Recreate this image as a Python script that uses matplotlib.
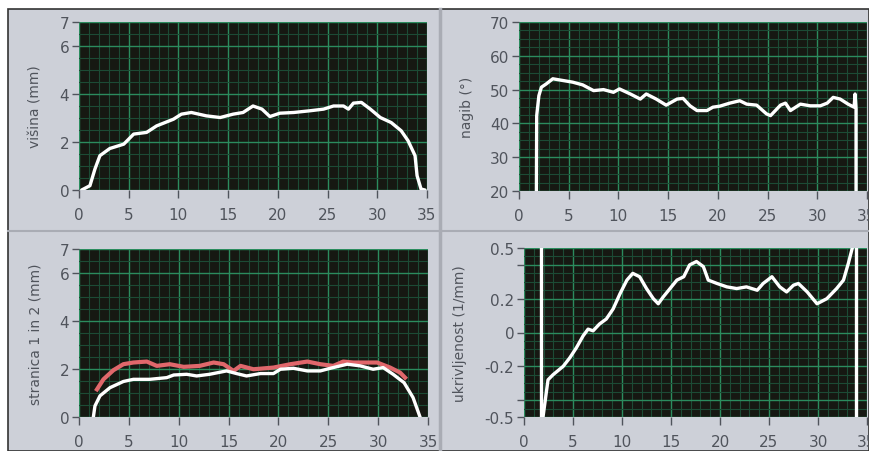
import matplotlib
matplotlib.use("Agg")
import matplotlib.pyplot as plt
from matplotlib.patches import Rectangle
from matplotlib.lines import Line2D
from matplotlib.ticker import MultipleLocator, FixedLocator

plt.rcParams['font.family'] = ['DejaVu Sans']

# ---------------- data ----------------
# višina (mm)
visina_x = [0.27, 1.1, 1.6, 2.1, 3.1, 4.5, 5.5, 6.8, 7.8, 9.5, 10.3, 11.3, 12.8, 14.2,
            15.5, 16.5, 17.5, 18.4, 19.2, 20.2, 21.6, 23.2, 24.6, 25.6, 26.6, 27.1,
            27.6, 28.4, 29.3, 30.3, 31.4, 32.4, 33.1, 33.8, 34.0, 34.4, 34.8]
visina_y = [0.0, 0.18, 0.87, 1.43, 1.73, 1.91, 2.33, 2.4, 2.67, 2.95, 3.16, 3.23, 3.09, 3.02,
            3.16, 3.23, 3.5, 3.37, 3.06, 3.2, 3.23, 3.3, 3.37, 3.5, 3.5, 3.37,
            3.62, 3.65, 3.37, 3.02, 2.81, 2.47, 2.05, 1.43, 0.6, 0.04, 0.0]

# nagib (°)
nagib_x = [1.75, 1.78, 2.0, 2.25, 2.75, 3.4, 4.4, 5.4, 6.4, 7.5, 8.5, 9.5, 10.1, 11.2,
           12.2, 12.8, 13.8, 14.8, 15.9, 16.5, 17.2, 17.9, 18.9, 19.5, 20.2, 21.2, 22.2,
           22.9, 23.9, 24.9, 25.3, 26.3, 26.8, 27.3, 28.3, 29.3, 30.3, 31.0, 31.6, 32.3,
           33.1, 33.7, 33.8, 33.9, 33.9]
nagib_y = [20, 42.3, 48.2, 50.7, 51.7, 53.2, 52.7, 52.2, 51.4, 49.7, 50.0, 49.2, 50.2, 48.7,
           47.2, 48.7, 47.2, 45.4, 47.2, 47.4, 45.2, 43.8, 43.8, 44.8, 45.1, 46.0, 46.7,
           45.7, 45.4, 42.8, 42.3, 45.4, 46.0, 43.8, 45.7, 45.2, 45.2, 46.0, 47.7, 47.2,
           45.7, 44.8, 48.7, 44.3, 20]

# stranica 1 in 2 (mm)
stran1_x = [1.44, 1.6, 2.1, 3.1, 4.45, 5.45, 7.1, 8.8, 9.5, 10.8, 11.8, 13.1, 14.8, 15.8,
            16.8, 18.2, 19.5, 20.2, 21.5, 22.9, 24.2, 25.2, 26.9, 28.2, 29.5, 30.5, 31.5,
            32.6, 33.5, 34.2]
stran1_y = [0.0, 0.46, 0.88, 1.22, 1.48, 1.57, 1.57, 1.64, 1.75, 1.78, 1.71, 1.78, 1.92, 1.81,
            1.71, 1.81, 1.81, 1.99, 2.03, 1.92, 1.92, 2.03, 2.2, 2.13, 1.99, 2.06, 1.78,
            1.43, 0.81, 0.0]
stran2_x = [1.8, 2.45, 3.45, 4.45, 5.45, 6.8, 7.8, 9.1, 10.5, 12.1, 13.5, 14.5, 15.5, 16.2,
            17.5, 19.5, 21.2, 22.9, 24.2, 25.5, 26.5, 27.5, 28.9, 29.9, 31.2, 32.2, 32.7]
stran2_y = [1.15, 1.57, 1.95, 2.2, 2.27, 2.31, 2.13, 2.2, 2.09, 2.13, 2.27, 2.2, 1.92, 2.13,
            1.99, 2.06, 2.2, 2.31, 2.2, 2.13, 2.31, 2.27, 2.27, 2.27, 2.06, 1.85, 1.64]

# ukrivljenost (1/mm)
ukr_x = [1.94, 2.45, 2.96, 4.0, 4.67, 5.35, 6.03, 6.54, 7.05, 7.7, 8.4, 9.1, 9.8, 10.5,
         11.1, 11.8, 12.5, 13.2, 13.7, 14.2, 14.9, 15.6, 16.3, 16.9, 17.6, 18.3, 18.8,
         19.7, 20.7, 21.7, 22.7, 23.8, 24.4, 25.3, 26.1, 26.8, 27.5, 28.0, 28.9, 29.9,
         30.9, 31.9, 32.6, 33.1, 33.5]
ukr_y = [-0.5, -0.28, -0.25, -0.2, -0.15, -0.09, -0.02, 0.02, 0.01, 0.05, 0.08, 0.14, 0.23, 0.31,
         0.35, 0.33, 0.26, 0.2, 0.17, 0.21, 0.26, 0.31, 0.33, 0.4, 0.42, 0.39, 0.31,
         0.29, 0.27, 0.26, 0.27, 0.25, 0.29, 0.33, 0.27, 0.24, 0.28, 0.29, 0.24, 0.17,
         0.2, 0.26, 0.31, 0.41, 0.5]
ukr_edges = [1.7, 33.9]

x_ticks = [0, 5, 10, 15, 20, 25, 30, 35]
mm_ticks = [0, 2, 4, 6, 7]
nagib_ticks = [20, 30, 40, 50, 60, 70]
ukr_ticks = [-0.5, -0.4, -0.2, 0, 0.2, 0.4, 0.5]
ukr_labels = ['-0.5', '', '-0.2', '0', '0.2', '', '0.5']

# ---------------- style ----------------
W, H = 869, 452
panel = '#cdd0d8'
plot_bg = '#161812'
grid_major = '#2b8c5e'
grid_minor = '#1c4b35'
txt = '#50545c'

fig = plt.figure(figsize=(W / 100, H / 100), dpi=100, facecolor='white')

def px(x0, y0, x1, y1):
    # pixel box (top-left origin) -> figure rect
    return [x0 / W, 1 - y1 / H, (x1 - x0) / W, (y1 - y0) / H]

fig.patches.append(Rectangle((8 / W, 0), 1 - 8 / W, 1 - 10 / H, transform=fig.transFigure,
                             facecolor=panel, edgecolor='#333333', lw=1.2, zorder=-3))
fig.lines.append(Line2D([440 / W, 440 / W], [0, 1 - 10 / H], transform=fig.transFigure,
                        color='#a9acb4', lw=2.5, zorder=-2))
fig.lines.append(Line2D([8 / W, 1], [1 - 232 / H, 1 - 232 / H], transform=fig.transFigure,
                        color='#a9acb4', lw=1.5, zorder=-2))


def style(ax, yticks, ylabels, ymin, ymax, yminor, label, labx):
    ax.set_facecolor(plot_bg)
    ax.set_xlim(0, 35)
    ax.set_ylim(ymin, ymax)
    ax.xaxis.set_major_locator(FixedLocator(x_ticks))
    ax.xaxis.set_minor_locator(MultipleLocator(1))
    ax.yaxis.set_major_locator(FixedLocator(yticks))
    ax.yaxis.set_minor_locator(MultipleLocator(yminor))
    if ylabels is not None:
        ax.set_yticklabels(ylabels)
    ax.grid(True, which='major', color=grid_major, lw=1.0)
    ax.grid(True, which='minor', color=grid_minor, lw=0.8)
    ax.set_axisbelow(True)
    for s in ax.spines.values():
        s.set_visible(False)
    ax.tick_params(which='minor', length=0)
    ax.tick_params(axis='y', which='major', length=5, width=1, color=txt,
                   labelcolor=txt, labelsize=11, pad=2)
    ax.tick_params(axis='x', which='major', length=6, width=1, color=txt,
                   labelcolor=txt, labelsize=11, pad=6)
    ax.set_ylabel(label, color=txt, fontsize=10)
    ax.yaxis.set_label_coords(labx, 0.5)


ax1 = fig.add_axes(px(79, 23, 427, 191))
ax1.plot(visina_x, visina_y, color='white', lw=2.4, solid_capstyle='round')
style(ax1, mm_ticks, None, 0, 7, 0.5, 'višina (mm)', -0.105)

ax2 = fig.add_axes(px(519, 23, 867, 192))
ax2.plot(nagib_x, nagib_y, color='white', lw=2.4)
style(ax2, nagib_ticks, None, 20, 70, 2.5, 'nagib (°)', -0.13)

ax3 = fig.add_axes(px(79, 250, 428, 418))
ax3.plot(stran2_x, stran2_y, color='#e0676b', lw=3.0)
ax3.plot(stran1_x, stran1_y, color='white', lw=2.4)
style(ax3, mm_ticks, None, 0, 7, 0.5, 'stranica 1 in 2 (mm)', -0.105)

ax4 = fig.add_axes(px(524, 249, 867, 418))
for e in ukr_edges:
    ax4.axvline(e, color='white', lw=2.4)
ax4.plot(ukr_x, ukr_y, color='white', lw=2.4)
style(ax4, ukr_ticks, ukr_labels, -0.5, 0.5, 0.05, 'ukrivljenost (1/mm)', -0.165)

fig.savefig('out.png', dpi=100, facecolor=fig.get_facecolor())
